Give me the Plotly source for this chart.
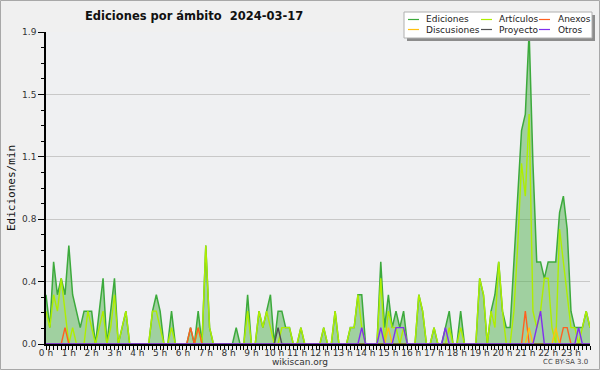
import plotly.graph_objects as go

# ---------------- data (10-minute bins, edits per minute) ----------------
minutes = list(range(0, 1440, 10))
hour_ticks = list(range(24))
hour_labels = [f"{h} h" for h in hour_ticks]
y_tickvals = [0, 0.38, 0.76, 1.14, 1.52, 1.9]
y_ticktext = ["0.0", "0.4", "0.8", "1.1", "1.5", "1.9"]

ediciones = [
    0.3, 0.1, 0.5, 0.3, 0.4, 0.3,
    0.6, 0.3, 0.2, 0.1, 0.2, 0.2,
    0.2, 0.0, 0.2, 0.4, 0.0, 0.2,
    0.4, 0.0, 0.1, 0.2, 0.0, 0.0,
    0.0, 0.0, 0.0, 0.0, 0.2, 0.3,
    0.2, 0.0, 0.0, 0.2, 0.0, 0.0,
    0.0, 0.0, 0.1, 0.0, 0.2, 0.0,
    0.6, 0.1, 0.0, 0.0, 0.0, 0.0,
    0.0, 0.0, 0.1, 0.0, 0.0, 0.3,
    0.0, 0.0, 0.2, 0.1, 0.2, 0.3,
    0.0, 0.2, 0.2, 0.1, 0.1, 0.0,
    0.0, 0.1, 0.0, 0.0, 0.0, 0.0,
    0.0, 0.1, 0.0, 0.0, 0.2, 0.0,
    0.0, 0.0, 0.1, 0.1, 0.3, 0.3,
    0.0, 0.0, 0.0, 0.0, 0.5, 0.1,
    0.3, 0.1, 0.2, 0.1, 0.2, 0.0,
    0.0, 0.0, 0.3, 0.2, 0.0, 0.0,
    0.1, 0.0, 0.0, 0.1, 0.2, 0.0,
    0.0, 0.2, 0.0, 0.0, 0.0, 0.0,
    0.4, 0.3, 0.0, 0.2, 0.3, 0.5,
    0.2, 0.1, 0.1, 0.5, 0.9, 1.3,
    1.4, 1.9, 1.1, 0.5, 0.5, 0.4,
    0.5, 0.5, 0.5, 0.8, 0.9, 0.7,
    0.2, 0.1, 0.1, 0.1, 0.2, 0.1,
]

articulos = [
    0.2, 0.1, 0.3, 0.2, 0.4, 0.2,
    0.0, 0.1, 0.0, 0.0, 0.0, 0.2,
    0.1, 0.0, 0.1, 0.2, 0.0, 0.1,
    0.3, 0.0, 0.1, 0.2, 0.0, 0.0,
    0.0, 0.0, 0.0, 0.0, 0.2, 0.2,
    0.1, 0.0, 0.0, 0.1, 0.0, 0.0,
    0.0, 0.0, 0.0, 0.0, 0.1, 0.0,
    0.6, 0.1, 0.0, 0.0, 0.0, 0.0,
    0.0, 0.0, 0.0, 0.0, 0.0, 0.2,
    0.0, 0.0, 0.2, 0.1, 0.2, 0.1,
    0.0, 0.0, 0.1, 0.1, 0.1, 0.0,
    0.0, 0.1, 0.0, 0.0, 0.0, 0.0,
    0.0, 0.1, 0.0, 0.0, 0.2, 0.0,
    0.0, 0.0, 0.1, 0.1, 0.3, 0.1,
    0.0, 0.0, 0.0, 0.0, 0.4, 0.0,
    0.2, 0.1, 0.1, 0.0, 0.1, 0.0,
    0.0, 0.0, 0.3, 0.2, 0.0, 0.0,
    0.1, 0.0, 0.0, 0.0, 0.1, 0.0,
    0.0, 0.1, 0.0, 0.0, 0.0, 0.0,
    0.4, 0.3, 0.0, 0.2, 0.1, 0.5,
    0.2, 0.0, 0.0, 0.2, 0.6, 1.1,
    0.9, 1.4, 0.2, 0.1, 0.2, 0.4,
    0.4, 0.1, 0.0, 0.7, 0.5, 0.3,
    0.1, 0.1, 0.0, 0.1, 0.2, 0.1,
]

anexos = [
    0, 0, 0, 0, 0, 0.1,
    0, 0, 0, 0, 0, 0,
    0, 0, 0, 0, 0, 0,
    0, 0, 0, 0, 0, 0,
    0, 0, 0, 0, 0, 0,
    0, 0, 0, 0, 0, 0,
    0, 0, 0.1, 0, 0.1, 0,
    0, 0, 0, 0, 0, 0,
    0, 0, 0, 0, 0, 0,
    0, 0, 0, 0, 0, 0,
    0, 0, 0, 0, 0, 0,
    0, 0, 0, 0, 0, 0,
    0, 0, 0, 0, 0, 0,
    0, 0, 0, 0, 0, 0,
    0, 0, 0, 0, 0, 0,
    0, 0, 0, 0, 0, 0,
    0, 0, 0, 0, 0, 0,
    0, 0, 0, 0, 0, 0,
    0, 0, 0, 0, 0, 0,
    0, 0, 0, 0, 0, 0,
    0, 0, 0, 0, 0, 0,
    0.2, 0, 0, 0, 0, 0,
    0, 0, 0, 0, 0.1, 0.1,
    0, 0, 0, 0, 0, 0,
]

discusiones = [
    0, 0, 0, 0, 0, 0,
    0, 0, 0, 0, 0, 0,
    0, 0, 0, 0, 0, 0,
    0, 0, 0, 0, 0, 0,
    0, 0, 0, 0, 0, 0,
    0, 0, 0, 0, 0, 0,
    0, 0, 0, 0, 0, 0,
    0, 0, 0, 0, 0, 0,
    0, 0, 0, 0, 0, 0,
    0, 0, 0, 0, 0, 0,
    0, 0, 0, 0, 0, 0,
    0, 0, 0, 0, 0, 0,
    0, 0, 0, 0, 0, 0,
    0, 0, 0, 0, 0, 0,
    0, 0, 0, 0, 0, 0,
    0.1, 0, 0, 0, 0, 0,
    0, 0, 0, 0, 0, 0,
    0, 0, 0, 0, 0, 0,
    0, 0, 0, 0, 0, 0,
    0, 0, 0, 0, 0, 0,
    0, 0, 0, 0, 0, 0,
    0, 0.1, 0, 0, 0, 0,
    0, 0, 0.1, 0, 0, 0,
    0, 0, 0, 0, 0, 0,
]

proyecto = [
    0, 0, 0, 0, 0, 0,
    0, 0, 0, 0, 0, 0,
    0, 0, 0, 0, 0, 0,
    0, 0, 0, 0, 0, 0,
    0, 0, 0, 0, 0, 0,
    0, 0, 0, 0, 0, 0,
    0, 0, 0, 0, 0, 0,
    0, 0, 0, 0, 0, 0,
    0, 0, 0, 0, 0, 0,
    0, 0, 0, 0, 0, 0,
    0, 0.1, 0, 0, 0, 0,
    0, 0, 0, 0, 0, 0,
    0, 0, 0, 0, 0, 0,
    0, 0, 0, 0, 0, 0,
    0, 0, 0, 0, 0, 0,
    0, 0, 0, 0, 0, 0,
    0, 0, 0, 0, 0, 0,
    0, 0, 0, 0, 0, 0,
    0, 0, 0, 0, 0, 0,
    0, 0, 0, 0, 0, 0,
    0, 0, 0, 0, 0, 0,
    0, 0, 0, 0, 0, 0,
    0, 0, 0, 0, 0, 0,
    0, 0, 0, 0, 0, 0,
]

otros = [
    0, 0, 0, 0, 0, 0,
    0, 0, 0, 0, 0, 0,
    0, 0, 0, 0, 0, 0,
    0, 0, 0, 0, 0, 0,
    0, 0, 0, 0, 0, 0,
    0, 0, 0, 0, 0, 0,
    0, 0, 0, 0, 0, 0,
    0, 0, 0, 0, 0, 0,
    0, 0, 0, 0, 0, 0,
    0, 0, 0, 0, 0, 0,
    0, 0, 0, 0, 0, 0,
    0, 0, 0, 0, 0, 0,
    0, 0, 0, 0, 0, 0,
    0, 0, 0, 0, 0, 0.1,
    0, 0, 0, 0, 0.1, 0,
    0, 0, 0.1, 0.1, 0.1, 0,
    0, 0, 0, 0, 0, 0,
    0, 0, 0, 0.1, 0, 0,
    0, 0, 0, 0, 0, 0,
    0, 0, 0, 0, 0, 0,
    0, 0, 0, 0, 0, 0,
    0, 0, 0, 0.1, 0.2, 0,
    0, 0, 0, 0, 0, 0,
    0, 0, 0.1, 0, 0, 0,
]

series_names = ["Ediciones", "Artículos", "Anexos", "Discusiones", "Proyecto", "Otros"]
series_colors = ["#3caa3c", "#aeee00", "#ff6020", "#ffc010", "#505050", "#8030ee"]

# ---------------- figure ----------------
W, H = 600, 370
ML, MR, MT, MB = 46, 10, 32, 26
PW, PH = W - ML - MR, H - MT - MB

def px_x(x):
    return (x - ML) / PW

def px_y(y):
    return (H - MB - y) / PH

hours = [m / 60 for m in minutes]
fig = go.Figure()

fig.add_trace(go.Scatter(
    x=hours, y=ediciones, mode="lines", name=series_names[0],
    line=dict(color=series_colors[0], width=1.5),
    fill="tozeroy", fillcolor="rgba(81,176,78,0.5)", showlegend=False))

for name, vals, col in zip(series_names[1:],
                           [articulos, anexos, discusiones, proyecto, otros],
                           series_colors[1:]):
    fig.add_trace(go.Scatter(
        x=hours, y=vals, mode="lines", name=name,
        line=dict(color=col, width=1.4), showlegend=False))

tickfont = dict(family="DejaVu Sans", size=9, color="#333333")

fig.update_xaxes(
    range=[0, minutes[-1] / 60], tickmode="array", tickvals=hour_ticks, ticktext=hour_labels,
    ticks="outside", ticklen=4, tickwidth=1, tickcolor="black",
    minor=dict(tickmode="linear", tick0=0, dtick=1 / 6, ticks="outside",
               ticklen=4, tickwidth=1, tickcolor="black", showgrid=False),
    showline=True, linecolor="black", linewidth=2, showgrid=False, zeroline=False,
    tickfont=tickfont, ticklabelstandoff=-5, fixedrange=True)

fig.update_yaxes(
    range=[0, 1.9], tickmode="array", tickvals=y_tickvals, ticktext=y_ticktext,
    ticks="outside", ticklen=6, tickwidth=1, tickcolor="black",
    minor=dict(tickmode="linear", tick0=0, dtick=0.095, ticks="outside",
               ticklen=3, tickwidth=1, tickcolor="black", showgrid=False),
    showline=True, linecolor="black", linewidth=1.5,
    showgrid=True, gridcolor="#c8c8c8", gridwidth=1, zeroline=False,
    tickfont=tickfont, fixedrange=True)

shapes = []
annotations = []

# outer border of the image
shapes.append(dict(type="rect", xref="paper", yref="paper", layer="above",
                   x0=px_x(0.5), x1=px_x(W - 0.5), y0=px_y(H - 0.5), y1=px_y(0.5),
                   line=dict(color="#a8a8a8", width=1), fillcolor="rgba(0,0,0,0)"))

# legend box with shadow
shapes.append(dict(type="rect", xref="paper", yref="paper", layer="above",
                   x0=px_x(407), x1=px_x(595), y0=px_y(41), y1=px_y(15),
                   line=dict(width=0), fillcolor="#8c8c8c"))
shapes.append(dict(type="rect", xref="paper", yref="paper", layer="above",
                   x0=px_x(404), x1=px_x(592), y0=px_y(38), y1=px_y(12),
                   line=dict(color="#b0b0b0", width=1), fillcolor="white"))

leg_cols = [(408, 424), (481, 497), (539, 556)]
leg_rows = [19.5, 29.5]
leg_order = [[0, 1, 2], [3, 4, 5]]
for r, row in enumerate(leg_order):
    for c, si in enumerate(row):
        lx, tx = leg_cols[c]
        yy = leg_rows[r]
        shapes.append(dict(type="line", xref="paper", yref="paper", layer="above",
                           x0=px_x(lx), x1=px_x(lx + 11), y0=px_y(yy), y1=px_y(yy),
                           line=dict(color=series_colors[si], width=1.2)))
        annotations.append(dict(xref="paper", yref="paper", x=px_x(tx), y=px_y(yy),
                                text=series_names[si], showarrow=False,
                                xanchor="left", yanchor="middle",
                                font=dict(family="DejaVu Sans", size=9, color="#222222")))

# y axis title
annotations.append(dict(xref="paper", yref="paper", x=px_x(11), y=0.5,
                        text="Ediciones/min", textangle=-90, showarrow=False,
                        xanchor="center", yanchor="middle",
                        font=dict(family="DejaVu Sans Mono", size=11, color="#111111")))
# footer
annotations.append(dict(xref="paper", yref="paper", x=px_x(300), y=px_y(362),
                        text="wikiscan.org", showarrow=False,
                        xanchor="center", yanchor="middle",
                        font=dict(family="DejaVu Sans", size=9, color="#333333")))
annotations.append(dict(xref="paper", yref="paper", x=px_x(590), y=px_y(362),
                        text="CC BY-SA 3.0", showarrow=False,
                        xanchor="right", yanchor="middle",
                        font=dict(family="DejaVu Sans", size=7, color="#444444")))

fig.update_layout(
    width=W, height=H, autosize=False,
    margin=dict(l=ML, r=MR, t=MT, b=MB, pad=0),
    paper_bgcolor="#f0f0f0", plot_bgcolor="#eff0f2",
    title=dict(text="<b>Ediciones por ámbito \u00a02024-03-17</b>",
               x=85 / W, xanchor="left", xref="container",
               y=1 - 16 / H, yanchor="middle", yref="container",
               font=dict(family="DejaVu Sans", size=11.5, color="#111111")),
    shapes=shapes, annotations=annotations, showlegend=False,
)

fig.write_html(
    "out.html",
    config={"displayModeBar": False},
    post_script="document.body.style.margin='0';document.body.style.padding='0';"
                "document.documentElement.style.overflow='hidden';",
)
